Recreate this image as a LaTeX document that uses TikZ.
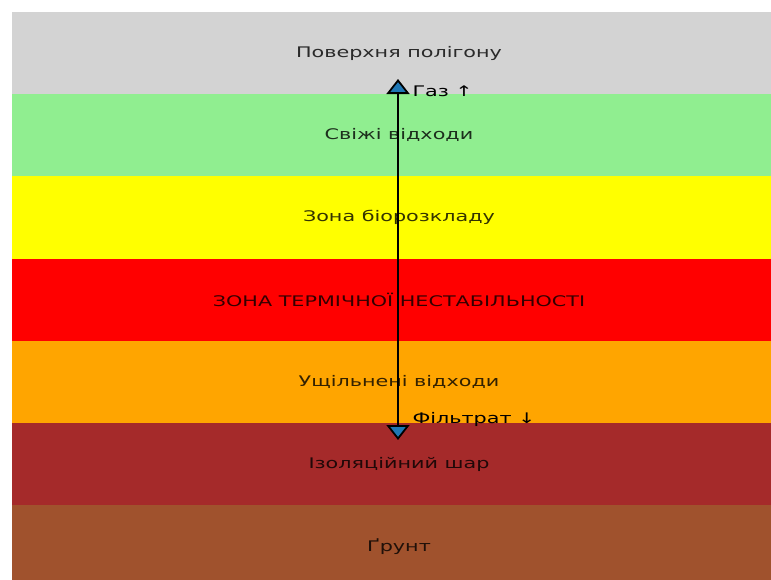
\documentclass[tikz,border=0pt]{standalone}
\usepackage{fontspec}
\setmainfont{DejaVu Sans}[FakeStretch=1.42]
\usetikzlibrary{arrows.meta}
\definecolor{surface}{HTML}{D3D3D3}
\definecolor{fresh}{HTML}{90EE90}
\definecolor{biozone}{HTML}{FFFF00}
\definecolor{thermal}{HTML}{FF0000}
\definecolor{compact}{HTML}{FFA500}
\definecolor{liner}{HTML}{A52A2A}
\definecolor{soil}{HTML}{A0522D}
\definecolor{flowblue}{HTML}{1F77B4}
\begin{document}
\begin{tikzpicture}[x=1pt, y=-1pt, font=\fontsize{14.6}{16}\selectfont, line join=round,
	>={Triangle[width=23pt,length=15pt,fill=flowblue]}]
	\useasboundingbox (0,0) rectangle (771,579);
	\begin{scope}
	\clip (0,0) rectangle (771,579);
	\foreach \c/\l [count=\i from 0] in {surface/Поверхня полігону, fresh/Свіжі відходи,
		biozone/Зона біорозкладу, thermal/ЗОНА ТЕРМІЧНОЇ НЕСТАБІЛЬНОСТІ,
		compact/Ущільнені відходи, liner/Ізоляційний шар, soil/Ґрунт}{
		\fill[\c] (12,12+82.2*\i) rectangle (790,94.2+82.2*\i);
		\node[text opacity=.8] (band\i) at (399,53.1+82.2*\i) {\l};
	}
	\end{scope}
	\path (398,79) coordinate (gastop)
	(398,440) coordinate (leachbot);
	\draw[<->, line width=1.8pt] (gastop)--(leachbot);
	\node[anchor=west] (gas) at (409,91) {Газ ↑};
	\node[anchor=west] (leachate) at (409,419) {Фільтрат ↓};
\end{tikzpicture}
\end{document}
